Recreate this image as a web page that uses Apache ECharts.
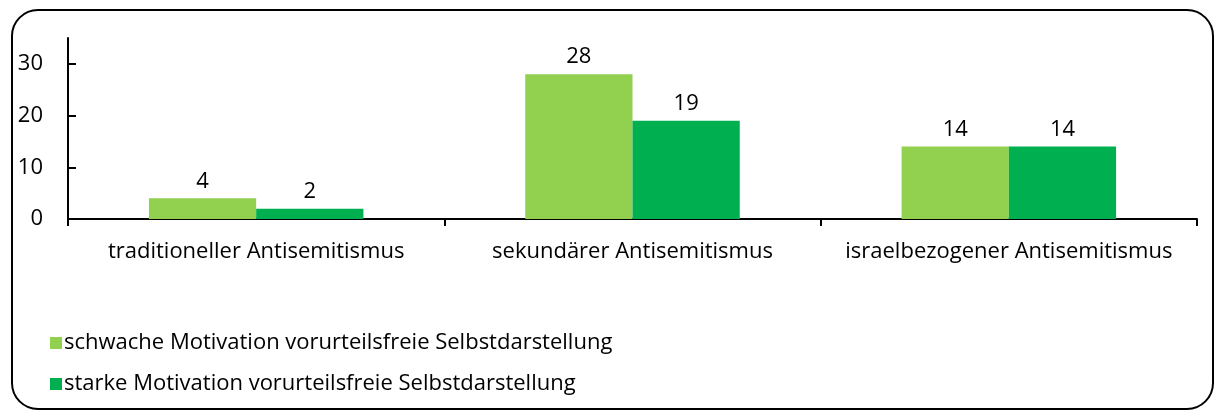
<!DOCTYPE html>
<html><head><meta charset="utf-8">
<script src="https://cdn.jsdelivr.net/npm/echarts@6/dist/echarts.min.js"></script>
<style>html,body{margin:0;padding:0;background:#fff}#c{width:1215px;height:412px}</style>
</head><body><div id="c"></div>
<script>
var categories = ['traditioneller Antisemitismus', 'sekundärer Antisemitismus', 'israelbezogener Antisemitismus'];
var seriesNames = ['schwache Motivation vorurteilsfreie Selbstdarstellung', 'starke Motivation vorurteilsfreie Selbstdarstellung'];
var weakValues = [4, 28, 14];
var strongValues = [2, 19, 14];
var yTicks = [0, 10, 20, 30];

var FONT = "'Open Sans', 'Noto Sans', sans-serif";
var FS = 22;
var chart = echarts.init(document.getElementById('c'));
var lbl = {show: true, position: 'top', distance: 6, color: '#000', fontSize: FS, fontFamily: FONT};
chart.setOption({
  animation: false,
  graphic: [{type: 'rect', shape: {x: 12, y: 10, width: 1201, height: 399, r: 26},
    style: {fill: 'none', stroke: '#000', lineWidth: 2}, z: -1}],
  grid: {left: 68, right: 18, top: 38, bottom: 193},
  legend: {orient: 'vertical', left: 45, top: 327, itemGap: 19, itemWidth: 12, itemHeight: 12,
    icon: 'rect', textStyle: {fontSize: FS, fontFamily: FONT, color: '#000', padding: [0,0,0,-3]},
    data: seriesNames},
  xAxis: {type: 'category', data: categories,
    axisLine: {lineStyle: {color: '#000', width: 2}},
    axisTick: {show: true, length: 7, lineStyle: {color: '#000', width: 2}},
    axisLabel: {color: '#000', fontSize: FS, fontFamily: FONT, margin: 22, interval: 0, hideOverlap: false}},
  yAxis: {type: 'value', min: 0, max: 35, interval: 10,
    axisLine: {show: true, lineStyle: {color: '#000', width: 2}},
    axisTick: {show: true, inside: true, length: 8, lineStyle: {color: '#000', width: 2}, customValues: yTicks},
    axisLabel: {color: '#000', fontSize: FS, fontFamily: FONT, margin: 25, customValues: yTicks},
    splitLine: {show: false}},
  series: [
    {name: seriesNames[0], type: 'bar', data: weakValues, barGap: '0%', barCategoryGap: '43%',
      itemStyle: {color: '#92D050'}, label: lbl},
    {name: seriesNames[1], type: 'bar', data: strongValues, barGap: '0%', barCategoryGap: '43%',
      itemStyle: {color: '#00B050'}, label: lbl}
  ]
});
</script></body></html>
